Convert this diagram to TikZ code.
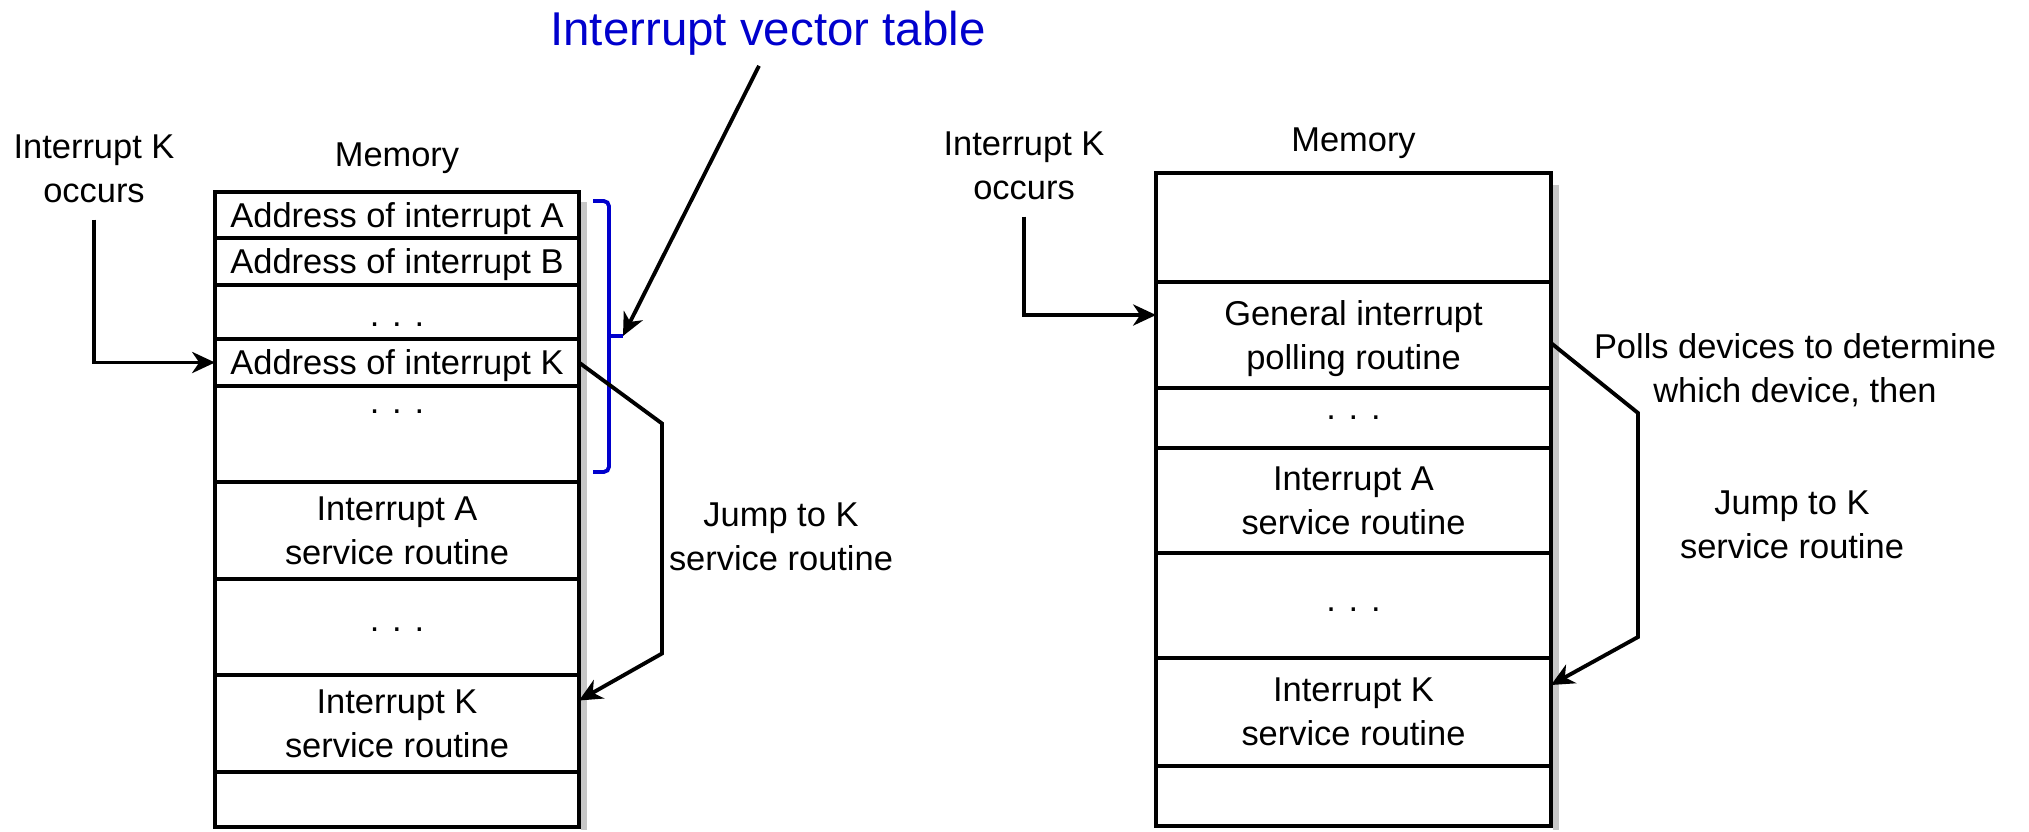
\documentclass[tikz,border=0pt]{standalone}
\usepackage{fontspec}
\setmainfont{Liberation Sans}
\usepackage{tikz}
\usetikzlibrary{arrows.meta,positioning,calc}
\definecolor{ivtblue}{RGB}{0,0,205}

\begin{document}
\begin{tikzpicture}[
  txt/.style={align=center,font=\fontsize{9.8}{12.5}\selectfont,inner sep=0pt},
  lbl/.style={txt,inner sep=1.6mm},
  cell/.style={txt,draw,line width=1.3pt,outer sep=0pt,text depth=0pt,minimum width=3.64cm},
  rcell/.style={cell,minimum width=3.95cm},
  dots/.style={txt},
  shade/.style={fill=black!22},
  arr/.style={-{Stealth[length=6.5pt,width=6pt,inset=2pt]},line width=1.1pt},
  brace/.style={ivtblue,line width=1.1pt,rounded corners=1.5pt}]
\useasboundingbox (0,0) rectangle (20.29,-8.31);
% shadows
\fill[shade] (5.81,-2.02) rectangle (5.87,-8.30);
\fill[shade] (15.53,-1.85) rectangle (15.59,-8.30);
% vectored interrupts
\node[font=\fontsize{13.5}{16}\selectfont,text=ivtblue,inner sep=1mm] (ivt) at (7.68,-0.33) {Interrupt vector table};
\node[lbl] (occL) at (0.94,-1.69) {Interrupt K\\occurs};
\node[txt] (memL) at (3.97,-1.585) {Memory};
\node[cell,minimum height=0.46cm] (a1) at (3.97,-2.15) {Address of interrupt A};
\node[cell,minimum height=0.47cm] (a2) at (3.97,-2.615) {Address of interrupt B};
\node[cell,minimum height=0.54cm] (a3) at (3.97,-3.12) {};
\node[cell,minimum height=0.47cm] (a4) at (3.97,-3.625) {Address of interrupt K};
\node[cell,minimum height=0.96cm] (a5) at (3.97,-4.34) {};
\node[cell,minimum height=0.97cm] (a6) at (3.97,-5.305) {Interrupt A\\service routine};
\node[cell,minimum height=0.96cm] (a7) at (3.97,-6.27) {};
\node[cell,minimum height=0.97cm] (a8) at (3.97,-7.235) {Interrupt K\\service routine};
\node[cell,minimum height=0.55cm] (a9) at (3.97,-7.995) {};
\node[dots] (d1) at (3.97,-3.25) {. . .};
\node[dots] (d2) at (3.97,-4.12) {. . .};
\node[dots] (d3) at (3.97,-6.30) {. . .};
\node[txt] (jmpL) at (7.81,-5.37) {Jump to K\\service routine};
\coordinate (vt) at (6.23,-3.36);
\draw[brace] (5.93,-2.01) -| (6.09,-4.72) -- (5.93,-4.72);
\draw[brace] (6.09,-3.36) -- (vt);
\draw[arr] ([xshift=-0.9mm]ivt.south) -- (vt);
\draw[arr] (occL.south) |- (a4.west);
\draw[arr] (a4.east) -- ++(0.83,-0.61) -- ++(0,-2.30) -- ([yshift=2.3mm]a8.east);
% polling
\node[lbl] (occR) at (10.24,-1.66) {Interrupt K\\occurs};
\node[txt] (memR) at (13.535,-1.43) {Memory};
\node[rcell,minimum height=1.09cm] (b1) at (13.535,-2.275) {};
\node[rcell,minimum height=1.06cm] (b2) at (13.535,-3.35) {General interrupt\\polling routine};
\node[rcell,minimum height=0.60cm] (b3) at (13.535,-4.18) {};
\node[rcell,minimum height=1.05cm] (b4) at (13.535,-5.005) {Interrupt A\\service routine};
\node[rcell,minimum height=1.05cm] (b5) at (13.535,-6.055) {};
\node[rcell,minimum height=1.08cm] (b6) at (13.535,-7.12) {Interrupt K\\service routine};
\node[rcell,minimum height=0.60cm] (b7) at (13.535,-7.96) {};
\node[dots] (d4) at (13.535,-4.18) {. . .};
\node[dots] (d5) at (13.535,-6.10) {. . .};
\node[txt] (poll) at (17.95,-3.70) {Polls devices to determine\\which device, then};
\node[txt] (jmpR) at (17.92,-5.25) {Jump to K\\service routine};
\draw[arr] (occR.south) |- ([yshift=2mm]b2.west);
\draw[arr] ([yshift=-0.8mm]b2.east) -- ++(0.87,-0.70) -- ++(0,-2.24) -- ([yshift=2.7mm]b6.east);
\end{tikzpicture}
\end{document}
